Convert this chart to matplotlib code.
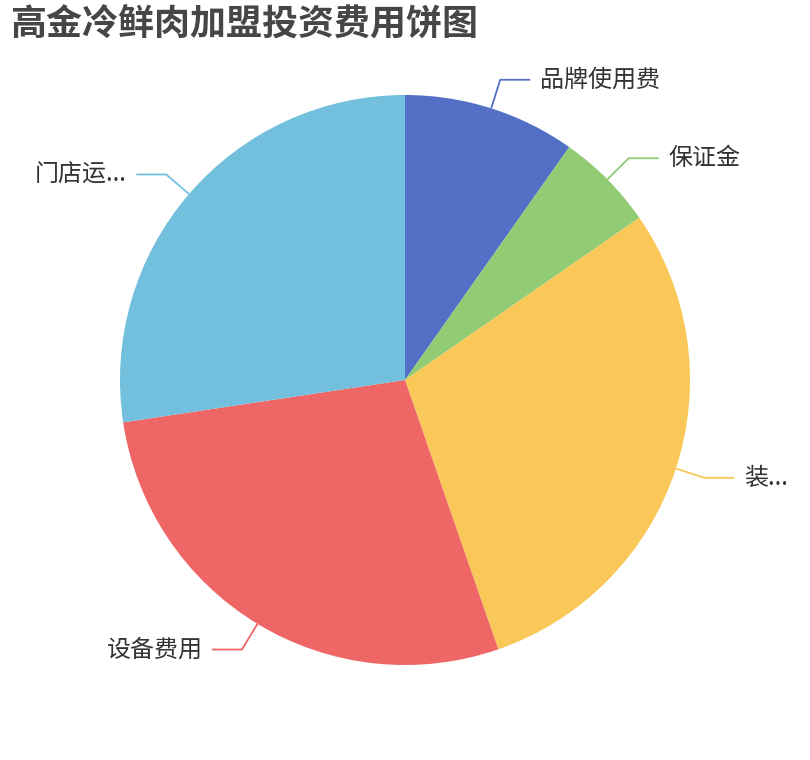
import matplotlib
matplotlib.use('Agg')
import matplotlib.pyplot as plt
import numpy as np

plt.rcParams['font.family'] = ['Noto Sans CJK SC', 'DejaVu Sans']

# data (万元)
labels = ['品牌使用费', '保证金', '装...', '设备费用', '门店运...']
values = [3.5, 2.0, 10.5, 10.0, 9.8]
colors = ['#5470c6', '#91cc75', '#fac858', '#ee6666', '#73c0de']
title = '高金冷鲜肉加盟投资费用饼图'

W, H = 810, 760
cx, cy, R = 405, H - 380, 285

fig = plt.figure(figsize=(W / 100, H / 100), dpi=100)
ax = fig.add_axes([0, 0, 1, 1])

wedges, _ = ax.pie(values, colors=colors, startangle=90, counterclock=False,
                   radius=R, center=(cx, cy),
                   wedgeprops=dict(linewidth=0))

ax.set_xlim(0, W)
ax.set_ylim(0, H)
ax.set_aspect('equal')
ax.axis('off')

# leader lines + labels
for w, lab, col in zip(wedges, labels, colors):
    mid = np.deg2rad((w.theta1 + w.theta2) / 2)
    x0, y0 = cx + R * np.cos(mid), cy + R * np.sin(mid)
    x1, y1 = cx + (R + 30) * np.cos(mid), cy + (R + 30) * np.sin(mid)
    side = 1 if np.cos(mid) >= 0 else -1
    x2 = x1 + side * 30
    ax.plot([x0, x1, x2], [y0, y1, y1], color=col, lw=1.3, solid_capstyle='butt')
    ax.text(x2 + side * 10, y1, lab, ha='left' if side > 0 else 'right',
            va='center', fontsize=17.3, color='#333333')

fig.text(10 / W, 1 - 25 / H, title, ha='left', va='center',
         fontsize=25.9, fontweight='bold', color='#464646')

fig.savefig('out.png', dpi=100)
